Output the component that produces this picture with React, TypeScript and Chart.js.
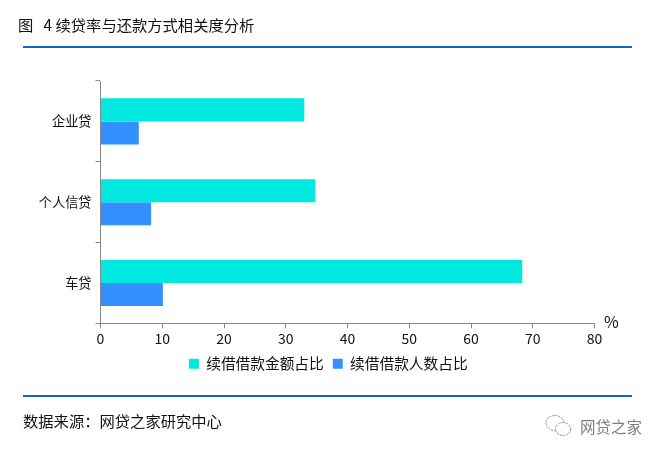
import React, { useEffect, useRef } from "react";
import { Chart, registerables } from "chart.js";

Chart.register(...registerables);

const categories = ["企业贷", "个人信贷", "车贷"];
const amountShare = [33, 34.8, 68.3];
const peopleShare = [6.2, 8.2, 10.1];
const seriesNames = ["续借借款金额占比", "续借借款人数占比"];
const titleText = "图   4 续贷率与还款方式相关度分析";
const sourceText = "数据来源:网贷之家研究中心";
const watermarkText = "网贷之家";

const FONT = '"Noto Sans CJK SC", "Noto Sans", sans-serif';
const AXIS = "#868686";

const shiftLegend = {
  id: "shiftLegend",
  afterLayout(chart: any) {
    if (chart.legend) {
      chart.legend.left += 21;
      chart.legend.right += 21;
    }
  },
};

export default function App() {
  const ref = useRef<HTMLCanvasElement>(null);
  useEffect(() => {
    document.body.style.margin = "0";
    document.body.style.background = "#fff";
    const chart = new Chart(ref.current!, {
      type: "bar",
      plugins: [shiftLegend],
      data: {
        labels: categories,
        datasets: [
          { label: seriesNames[0], data: amountShare, backgroundColor: "#00E8E0", categoryPercentage: 0.57, barPercentage: 1 },
          { label: seriesNames[1], data: peopleShare, backgroundColor: "#3391FF", categoryPercentage: 0.57, barPercentage: 1 },
        ],
      },
      options: {
        indexAxis: "y",
        animation: false,
        responsive: false,
        layout: { padding: { left: 20, right: 69.5, top: 81, bottom: 75 } },
        plugins: {
          title: { display: false },
          tooltip: { enabled: false },
          legend: {
            display: true,
            position: "bottom",
            align: "center",
            labels: {
              boxWidth: 10,
              boxHeight: 10,
              padding: 9,
              color: "#111",
              font: { family: FONT, size: 14.7 },
            },
          },
        },
        scales: {
          x: {
            min: 0,
            max: 80,
            afterFit: (s: any) => { s.height = 24; },
            border: { color: AXIS, width: 1 },
            grid: { drawOnChartArea: false, color: AXIS, tickLength: 5 },
            ticks: { stepSize: 10, maxRotation: 0, color: "#111", padding: 2, font: { family: FONT, size: 14 } },
          },
          y: {
            afterFit: (s: any) => { s.width = 80.5; },
            border: { color: AXIS, width: 1 },
            grid: { drawOnChartArea: false, color: AXIS, tickLength: 5, offset: true },
            ticks: { color: "#111", padding: 4, autoSkip: false, font: { family: FONT, size: 13.2 } },
          },
        },
      },
    } as any);
    return () => chart.destroy();
  }, []);

  const abs = (o: React.CSSProperties): React.CSSProperties => ({ position: "absolute", whiteSpace: "pre", fontFamily: FONT, color: "#111", lineHeight: 1, ...o });
  return (
    <div style={{ position: "relative", width: 664, height: 456, overflow: "hidden", background: "#fff" }}>
      <canvas ref={ref} width={664} height={456} style={{ position: "absolute", left: 0, top: 0, display: "block" }} />
      <div style={abs({ left: 18, top: 17, fontSize: 15.3 })}>{titleText}</div>
      <div style={{ position: "absolute", left: 23, top: 46, width: 609, height: 2, background: "#0D66CC" }} />
      <div style={{ position: "absolute", left: 23, top: 395, width: 609, height: 2, background: "#0D66CC" }} />
      <div style={abs({ left: 23, top: 413, fontSize: 15.3 })}>{sourceText.replace(":", "：")}</div>
      <div style={abs({ left: 604, top: 313, fontSize: 16 })}>%</div>
      <svg width={28} height={24} style={{ position: "absolute", left: 545, top: 414 }} fill="none" stroke="#8a8a8a" strokeWidth={1} strokeDasharray="2 1">
        <ellipse cx={10} cy={9} rx={9} ry={7.5} fill="#fff" />
        <ellipse cx={18} cy={15} rx={7.5} ry={6.5} fill="#fff" />
      </svg>
      <div style={abs({ left: 580, top: 419, fontSize: 15.5, color: "#7f7f7f" })}>{watermarkText}</div>
    </div>
  );
}
